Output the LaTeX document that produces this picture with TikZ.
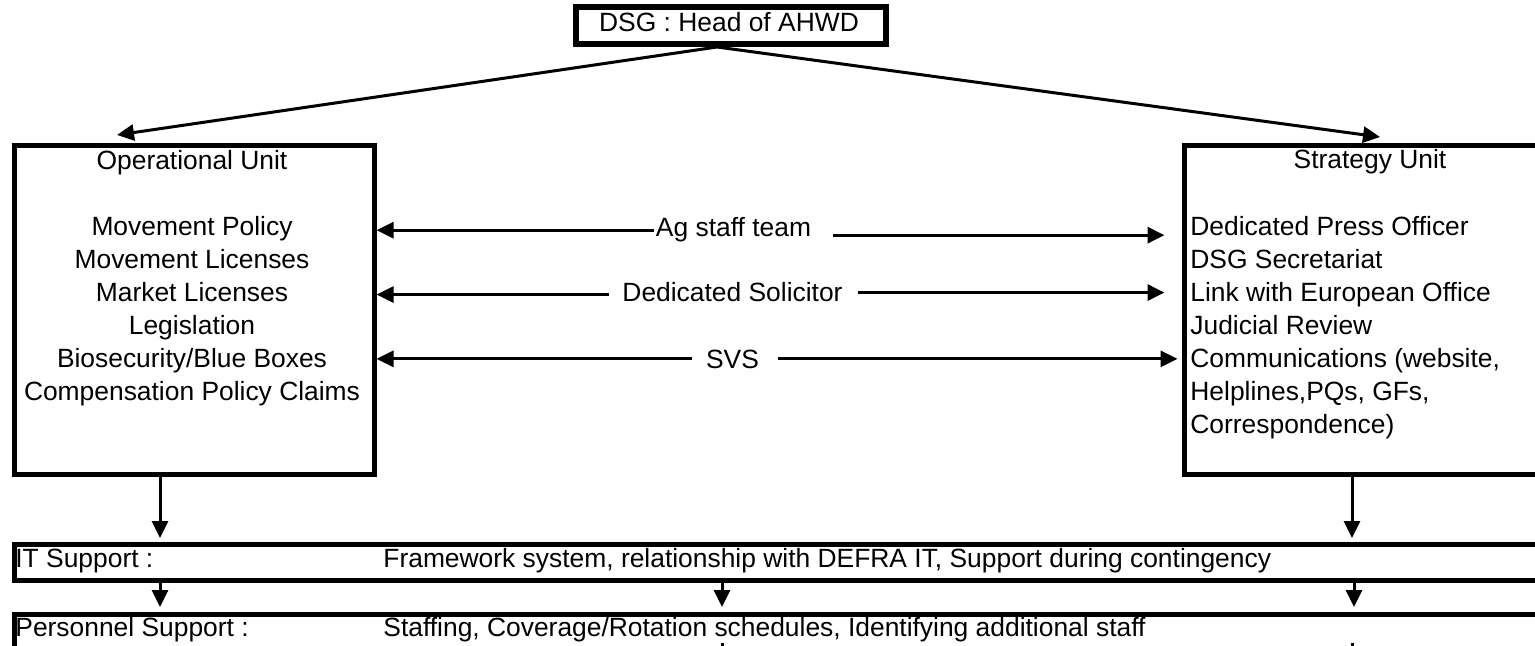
\documentclass[tikz,border=0pt]{standalone}
\usepackage{fontspec}
\setmainfont{Liberation Sans}
\usetikzlibrary{arrows.meta}
\begin{document}
\begin{tikzpicture}[x=0.5pt,y=-0.5pt,
  box/.style={draw, line width=2.5pt, inner sep=0pt},
  txt/.style={font=\fontsize{13.2}{16.5}\selectfont, inner sep=0pt},
  arr/.style={line width=1.5pt, -{Triangle[length=8.5pt,width=8pt]}},
  conn/.style={line width=1.5pt},
]
\useasboundingbox (0,0) rectangle (1535,646);
\clip (0,0) rectangle (1535,646);
% top box
\node[box, line width=3pt, minimum width=155pt, minimum height=18.25pt] (top) at (731,25.75) {};
\node[txt, anchor=base] (toptxt) at (729,32) {DSG : Head of AHWD};
% operational unit
\node[box, minimum width=180pt, minimum height=164.5pt] (op) at (194,310) {};
\node[txt, anchor=north, align=center] (optxt) at (192,150) {Operational Unit\\\mbox{}\\Movement Policy\\Movement Licenses\\Market Licenses\\Legislation\\Biosecurity/Blue Boxes\\Compensation Policy Claims};
% strategy unit
\node[box, minimum width=186.75pt, minimum height=164.5pt] (st) at (1371.25,310) {};
\node[txt, anchor=base] (sttitle) at (1370,169) {Strategy Unit};
\node[txt, anchor=north west, align=left] (sttxt) at (1190,216) {Dedicated Press Officer\\DSG Secretariat\\Link with European Office\\Judicial Review\\Communications (website,\\Helplines,PQs, GFs,\\Correspondence)};
% middle labels
\node[txt, anchor=base] (ag) at (733.5,237) {Ag staff team};
\node[txt, anchor=base] (sol) at (732.5,302) {Dedicated Solicitor};
\node[txt, anchor=base] (svs) at (732.5,368) {SVS};
% bars
\node[box, minimum width=773pt, minimum height=17.75pt] (it) at (787,562.25) {};
\node[box, minimum width=773pt, minimum height=37.75pt] (pers) at (787,652.25) {};
\node[txt, anchor=base west] (itlab) at (15,567.5) {IT Support :};
\node[txt, anchor=base west] (ittxt) at (383,567.5) {Framework system, relationship with DEFRA IT, Support during contingency};
\node[txt, anchor=base west] (perslab) at (15,636.5) {Personnel Support :};
\node[txt, anchor=base west] (perstxt) at (383,636.5) {Staffing, Coverage/Rotation schedules, Identifying additional staff};
% coordinates
\coordinate (tipL) at (117,135);
\coordinate (tipR) at (1380,137);
\coordinate (cA) at (160,0);
\coordinate (cB) at (1352,0);
\coordinate (cC) at (722,0);
\coordinate (cD) at (1354,0);
\coordinate (stubA) at (722,643);
\coordinate (stubAe) at (722,652);
\coordinate (stubB) at (1352,643);
\coordinate (stubBe) at (1352,652);
% top arrows
\draw[arr] ([xshift=-7pt]top.south) -- (tipL);
\draw[arr] ([xshift=-7pt]top.south) -- (tipR);
% middle arrows
\draw[arr] ([xshift=-1pt]ag.west) -- (ag.west -| op.east);
\draw[arr] ([xshift=11pt,yshift=-2.5pt]ag.east) -- ([xshift=-8.75pt,yshift=-2.5pt]ag.east -| st.west);
\draw[arr] ([xshift=-6.5pt,yshift=-1pt]sol.west) -- ([yshift=-1pt]sol.west -| op.east);
\draw[arr] ([xshift=7.5pt]sol.east) -- ([xshift=-8.75pt]sol.east -| st.west);
\draw[arr] ([xshift=-7pt]svs.west) -- (svs.west -| op.east);
\draw[arr] ([xshift=9.5pt]svs.east) -- ([xshift=-2.25pt]svs.east -| st.west);
% vertical arrows
\draw[arr, shorten >=2pt] (op.south -| cA) -- (it.north -| cA);
\draw[arr, shorten >=2pt] (st.south -| cB) -- (it.north -| cB);
\draw[arr, shorten >=2.5pt] (it.south -| cA) -- (pers.north -| cA);
\draw[arr, shorten >=2.5pt] (it.south -| cC) -- (pers.north -| cC);
\draw[arr, shorten >=2.5pt] ([yshift=2pt]it.south -| cD) -- (pers.north -| cD);
\draw[conn] (stubA) -- (stubAe);
\draw[conn] (stubB) -- (stubBe);
\end{tikzpicture}
\end{document}
